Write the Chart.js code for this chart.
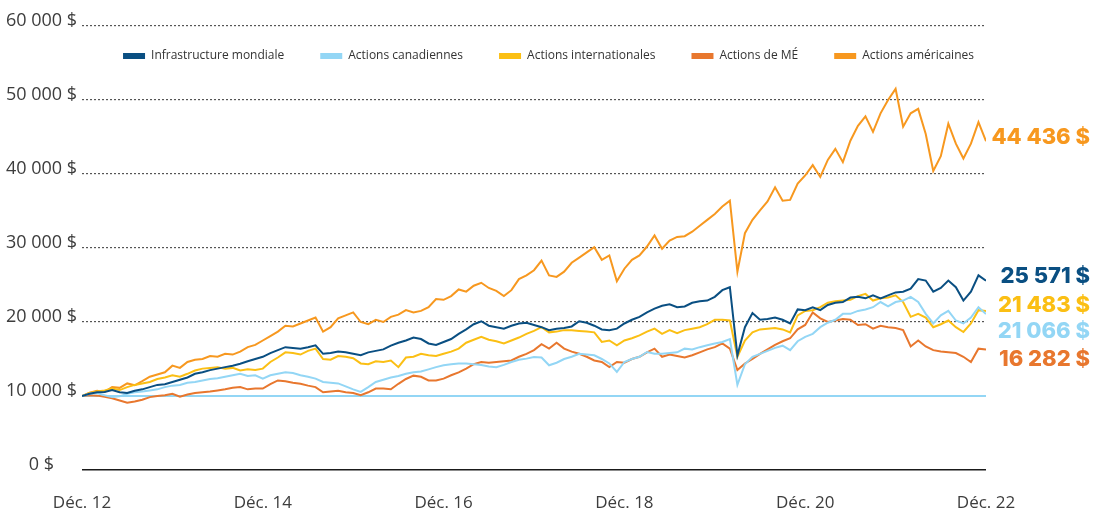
<!DOCTYPE html>
<html>
<head>
<meta charset="utf-8">
<script src="https://cdn.jsdelivr.net/npm/chart.js@4.4.1/dist/chart.umd.min.js"></script>
<style>
  html, body { margin: 0; padding: 0; background: #ffffff; }
  #wrap { width: 1093px; height: 512px; position: relative; }
  canvas { display: block; }
</style>
</head>
<body>
<div id="wrap"><canvas id="c" width="1093" height="512"></canvas></div>
<script>
// ---------- DATA (monthly, Dec 2012 = index 0 ... Dec 2022 = index 120) ----------
const xTickLabels = ['Déc. 12', 'Déc. 14', 'Déc. 16', 'Déc. 18', 'Déc. 20', 'Déc. 22'];
const yTickLabels = ['0 $', '10 000 $', '20 000 $', '30 000 $', '40 000 $', '50 000 $', '60 000 $'];

const seriesNames = ['Infrastructure mondiale', 'Actions canadiennes', 'Actions internationales', 'Actions de MÉ', 'Actions américaines'];
const finalLabels = ['25 571 $', '21 066 $', '21 483 $', '16 282 $', '44 436 $'];

const infrastructureMondiale = [
  10000,10300,10500,10550,10800,10500,10400,10700,10900,11200,11500,11600,
  11900,12200,12500,13000,13200,13500,13700,13900,14100,14350,14700,15000,
  15300,15800,16200,16600,16500,16400,16600,16850,15700,15800,16000,15900,
  15700,15500,15900,16100,16300,16800,17200,17500,17900,17700,17100,16900,
  17300,17700,18400,19000,19700,20100,19500,19300,19100,19500,19800,19900,
  19600,19300,18900,19100,19200,19400,20100,19900,19500,19000,18900,19100,
  19800,20300,20700,21300,21800,22200,22400,22000,22100,22600,22800,22900,
  23400,24300,24700,15500,19300,21200,20300,20400,20600,20300,19800,21700,
  21600,22000,21600,22300,22600,22700,23300,23400,23200,23600,23200,23600,
  24000,24100,24500,25800,25600,24100,24600,25600,24700,22900,24100,26300,
  25571
];

const actionsCanadiennes = [
  10000,10300,10400,10100,9850,9950,10300,10500,10600,10750,10900,11200,
  11400,11500,11800,11900,12100,12300,12400,12600,12800,13000,12700,12800,
  12350,12800,13000,13200,13100,12800,12600,12350,11900,11800,11700,11300,
  10900,10550,11200,11900,12200,12500,12700,13000,13200,13300,13600,13900,
  14150,14300,14400,14400,14300,14200,14000,13900,14200,14600,14900,15050,
  15270,15200,14150,14500,15000,15300,15700,15600,15500,15000,14400,13250,
  14600,15000,15300,15950,15700,15700,15800,15900,16400,16300,16600,16850,
  17100,17300,17700,11500,14300,15300,15700,16100,16500,16800,16200,17400,
  18000,18400,19300,19900,20300,21100,21100,21500,21700,22000,22700,22100,
  22700,22900,23400,22700,21100,19800,20900,21500,20200,19800,20600,22000,
  21066
];

const actionsInternationales = [
  10000,10400,10600,10750,11000,10800,11200,11500,11700,11900,12300,12500,
  12800,12600,13000,13450,13700,13800,13900,13700,13800,13450,13600,13500,
  13700,14600,15200,15900,15800,15600,16100,16400,15000,14900,15400,15300,
  15100,14400,14300,14700,14600,14800,13900,15200,15300,15700,15500,15400,
  15700,16000,16400,17200,17600,18000,17600,17400,17100,17500,17900,18400,
  18800,19300,18600,18700,18900,18900,18800,18700,18600,17300,17500,16850,
  17500,17800,18200,18700,19100,18400,18900,18500,18900,19100,19300,19700,
  20300,20300,20200,15300,17500,18600,19000,19100,19200,19000,18600,20900,
  21500,21600,22000,22600,22800,22900,23000,23500,23800,22900,23200,23300,
  23600,22700,20700,21100,20600,19300,19700,20200,19300,18650,19800,21600,
  21483
];

const actionsME = [
  10000,10100,10050,9900,9700,9400,9100,9250,9500,9850,10000,10100,
  10300,9900,10200,10400,10500,10600,10750,10900,11100,11200,10900,11000,
  11000,11600,12100,12000,11800,11650,11400,11200,10500,10600,10700,10500,
  10400,10100,10500,11000,11000,10900,11650,12300,12750,12600,12100,12100,
  12350,12800,13200,13700,14300,14600,14500,14600,14700,14800,15300,15700,
  16200,17000,16400,17200,16400,16000,15700,15300,14800,14600,13900,14600,
  14500,15000,15300,15900,16400,15300,15600,15400,15200,15500,15900,16300,
  16600,17100,16400,13500,14400,15000,15700,16300,16900,17400,17800,19000,
  19600,21300,20500,20000,20200,20400,20300,19600,19700,19100,19500,19300,
  19200,18900,16700,17500,16700,16200,16000,15900,15800,15300,14600,16400,
  16282
];

const actionsAmericaines = [
  10000,10450,10700,10550,11200,11100,11700,11450,12000,12600,12900,13200,
  14100,13800,14600,14900,15000,15400,15300,15700,15600,16000,16600,16900,
  17500,18100,18700,19500,19400,19800,20200,20600,18700,19300,20500,20900,
  21300,20000,19700,20300,20000,20700,21000,21600,21300,21500,22000,23100,
  23000,23500,24400,24100,24900,25300,24600,24200,23500,24300,25800,26300,
  27000,28300,26300,26100,26800,28000,28700,29400,30100,28400,29000,25500,
  27200,28400,29000,30200,31700,29900,31000,31500,31600,32200,33000,33800,
  34600,35600,36400,26800,32000,33800,35100,36300,38200,36400,36500,38700,
  39800,41200,39600,41900,43400,41600,44500,46500,47800,45700,48200,50000,
  51500,46400,48200,48800,45400,40400,42400,46800,44100,42100,44100,47000,
  44436
];

const seriesValues = [infrastructureMondiale, actionsCanadiennes, actionsInternationales, actionsME, actionsAmericaines];

// ---------- STYLES ----------
const seriesColors = ['#0a4f82', '#93d6f5', '#fbbf14', '#e8772e', '#f7981f'];
const endLabelY = [276, 331.5, 305, 359.5, 137.5];
const textColor = '#3d3d3d';

const endLabelPlugin = {
  id: 'endLabels',
  afterDatasetsDraw(chart) {
    const ctx = chart.ctx;
    ctx.save();
    ctx.font = '800 22px Inter';
    ctx.textAlign = 'right';
    ctx.textBaseline = 'middle';
    chart.data.datasets.forEach((ds, i) => {
      ctx.fillStyle = ds.borderColor;
      ctx.fillText(finalLabels[i], 1090, endLabelY[i]);
    });
    ctx.restore();
  }
};

// places the (top) legend row inside the plot, between the 60 000 and 50 000 lines
const legendShift = {
  id: 'legendShift',
  afterLayout(chart) {
    const l = chart.legend;
    if (!l || !l.lineWidths) return;
    const p = l.options.labels.padding;
    const lineW = l.lineWidths[0];
    const xStart = (l.left + p + l.right - lineW) / 2;
    const dx = 548.5 - (lineW - p) / 2 - xStart;
    l.left += dx; l.right += dx;
    l.top = 14; l.bottom = 14 + 74; l.height = 74;
  }
};

function build() {
  new Chart(document.getElementById('c'), {
    type: 'line',
    data: {
      datasets: seriesValues.map((vals, i) => ({
        label: seriesNames[i],
        data: vals.map((v, k) => ({ x: k, y: v })),
        borderColor: seriesColors[i],
        backgroundColor: seriesColors[i],
        borderWidth: 2,
        pointRadius: 0,
        tension: 0,
        fill: false
      }))
    },
    options: {
      responsive: false,
      animation: false,
      events: [],
      layout: { padding: { top: 0, right: 107, bottom: 0, left: 0 } },
      scales: {
        x: {
          type: 'linear', min: 0, max: 120,
          grid: { display: false },
          border: { display: false },
          ticks: {
            stepSize: 24, autoSkip: false, maxRotation: 0, padding: 15,
            color: textColor, font: { family: 'Open Sans', size: 17 },
            callback: v => xTickLabels[v / 24] ?? ''
          },
          afterFit: s => { s.height = 42; }
        },
        y: {
          min: 0, max: 60000,
          ticks: {
            stepSize: 10000, padding: 5, crossAlign: 'center', labelOffset: -5,
            color: textColor, font: { family: 'Open Sans', size: 18 },
            callback: v => yTickLabels[v / 10000] ?? ''
          },
          grid: {
            drawTicks: false,
            color: c => c.tick.value === 0 ? '#1a1a1a' : (c.tick.value === 10000 ? '#93d6f5' : '#555555'),
            lineWidth: c => c.tick.value === 0 ? 1.5 : (c.tick.value === 10000 ? 2 : 1.2)
          },
          border: {
            display: false,
            dash: c => (c.tick && (c.tick.value === 0 || c.tick.value === 10000)) ? [] : [2, 2]
          },
          afterFit: s => { s.width = 82; }
        }
      },
      plugins: {
        tooltip: { enabled: false },
        legend: {
          position: 'top',
          align: 'center',
          maxHeight: 26,
          labels: {
            font: { family: 'Open Sans', size: 12 },
            color: '#333333',
            boxWidth: 22,
            boxHeight: 6,
            useBorderRadius: true,
            borderRadius: 3,
            padding: 36,
            generateLabels: chart => chart.data.datasets.map((d, i) => ({
              text: d.label,
              fillStyle: d.borderColor,
              strokeStyle: d.borderColor,
              lineWidth: 0,
              fontColor: '#333333',
              hidden: false,
              datasetIndex: i
            }))
          }
        }
      }
    },
    plugins: [endLabelPlugin, legendShift]
  });
}

Promise.all(['17px "Open Sans"', '18px "Open Sans"', '12px "Open Sans"', '800 22px Inter'].map(f => document.fonts.load(f)))
  .then(build, build);
</script>
</body>
</html>
